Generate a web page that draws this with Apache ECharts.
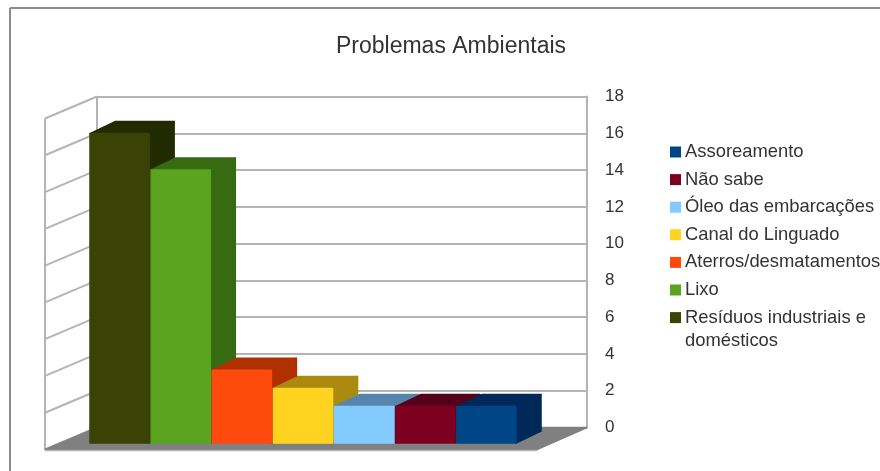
<!DOCTYPE html>
<html>
<head>
<meta charset="utf-8">
<style>html,body{margin:0;padding:0;background:#fff}#chart{width:880px;height:471px}</style>
<script src="https://cdn.jsdelivr.net/npm/echarts@6/dist/echarts.min.js"></script>
</head>
<body>
<div id="chart"></div>
<script>
// Survey responses, tallest column first
const categories = ['Resíduos industriais e domésticos', 'Lixo', 'Aterros/desmatamentos', 'Canal do Linguado', 'Óleo das embarcações', 'Não sabe', 'Assoreamento'];
const values = [17, 15, 4, 3, 2, 2, 2];
const frontColors = ['#3a4205', '#5ba41f', '#ff4a0d', '#ffd320', '#83caff', '#7e0021', '#004586'];
const sideColors = ['#222b00', '#376b12', '#b03000', '#ab8a10', '#5585ad', '#57001a', '#00295a'];
const topColors = ['#222b00', '#376b12', '#b03000', '#ab8a10', '#5585ad', '#57001a', '#00295a'];
const legendOrder = ['Assoreamento', 'Não sabe', 'Óleo das embarcações', 'Canal do Linguado', 'Aterros/desmatamentos', 'Lixo', 'Resíduos industriais e domésticos'];
const yTicks = [0, 2, 4, 6, 8, 10, 12, 14, 16, 18];

const wallDepth = [-52, 22];   // how far the side wall and floor come towards the viewer
const barDepth = [25, -12];    // how far each column runs back
const gridColor = '#b4b4b4';
const textColor = '#333333';
const font = 'Liberation Sans';

const chart = echarts.init(document.getElementById('chart'), null, {renderer: 'canvas'});

function poly(points, fill) {
  return {type: 'polygon', shape: {points}, style: {fill, stroke: fill, lineWidth: 1.5, lineJoin: 'round'}};
}

function rule(x1, y1, x2, y2) {
  return {type: 'line', shape: {x1, y1, x2, y2}, style: {stroke: gridColor, lineWidth: 2}};
}

// Side wall: one sloping rule per axis tick, plus its two vertical edges
function renderWall(params, api) {
  const p = api.coord([0, api.value(0)]);
  const kids = [rule(p[0], p[1], p[0] + wallDepth[0], p[1] + wallDepth[1])];
  if (params.dataIndex === 0) {
    const top = api.coord([0, yTicks[yTicks.length - 1]]);
    kids.push(rule(top[0] + wallDepth[0], top[1] + wallDepth[1], p[0] + wallDepth[0], p[1] + wallDepth[1]));
    kids.push(rule(top[0], top[1], p[0], p[1]));
  }
  return {type: 'group', children: kids};
}

// Floor: parallelogram under the columns
function renderFloor(params, api) {
  const a = api.coord([0, 0]);
  const b = api.coord([1, 0]);
  const inset = 2;
  return {type: 'group', children: [
    poly([a, b, [b[0] + wallDepth[0] + inset, b[1] + wallDepth[1]], [a[0] + wallDepth[0], a[1] + wallDepth[1]]], '#808080'),
    {type: 'line', shape: {x1: a[0] + wallDepth[0], y1: a[1] + wallDepth[1] + 1, x2: b[0] + wallDepth[0] + inset, y2: b[1] + wallDepth[1] + 1}, style: {stroke: gridColor, lineWidth: 1.5}}
  ]};
}

// Column: front face, top face and right side face from the front-plane scale
function renderColumn(params, api) {
  const i = api.value(0);
  const topMid = api.coord([i, api.value(1)]);
  const base = api.coord([i, 0]);
  const w = api.size([1, 0])[0];
  const l = topMid[0] - w / 2 + 1, r = topMid[0] + w / 2 - 1;
  const t = topMid[1], b = base[1];
  const dx = barDepth[0], dy = barDepth[1];
  return {type: 'group', children: [
    poly([[r, t], [r + dx, t + dy], [r + dx, b + dy], [r, b]], sideColors[i]),
    poly([[l, t], [l + dx, t + dy], [r + dx, t + dy], [r, t]], topColors[i]),
    poly([[l, t], [r, t], [r, b], [l, b]], frontColors[i])
  ]};
}

const columnSeries = categories.map((name, i) => ({
  name,
  type: 'custom',
  xAxisIndex: 1,
  yAxisIndex: 1,
  coordinateSystem: 'cartesian2d',
  renderItem: renderColumn,
  itemStyle: {color: frontColors[i]},
  encode: {x: 0, y: 1},
  z: 10 + i,
  data: [[i, values[i]]]
}));

chart.setOption({
  animation: false,
  backgroundColor: '#ffffff',
  title: {
    text: 'Problemas Ambientais',
    left: 446, top: 30, textAlign: 'center',
    textStyle: {fontFamily: font, fontSize: 23, fontWeight: 'normal', color: textColor}
  },
  legend: {
    orient: 'vertical', left: 665, top: 135.5,
    data: legendOrder,
    icon: 'rect', itemWidth: 11, itemHeight: 11, itemGap: 4.6,
    selectedMode: false,
    // the last entry wraps: its second line is placed as a separate text below
    formatter: n => n.replace(' domésticos', ''),
    textStyle: {fontFamily: font, fontSize: 18.4, color: textColor, padding: [0, 0, 0, -1], lineHeight: 23}
  },
  grid: [
    {left: 97, top: 96.5, width: 490, height: 331, show: false},
    {left: 89, top: 115.4, width: 428, height: 327.6, show: false}
  ],
  xAxis: [
    {type: 'value', gridIndex: 0, min: 0, max: 1, show: false},
    {type: 'category', gridIndex: 1, data: categories.map((c, i) => i), show: false}
  ],
  yAxis: [
    {
      type: 'value', gridIndex: 0, position: 'right', min: 0, max: 18, interval: 2,
      axisLine: {show: true, onZero: false, lineStyle: {color: gridColor, width: 2}},
      axisTick: {show: false},
      axisLabel: {margin: 18, fontFamily: font, fontSize: 17, color: textColor},
      splitLine: {show: true, lineStyle: {color: gridColor, width: 2}}
    },
    {type: 'value', gridIndex: 1, min: 0, max: 18, show: false}
  ],
  series: [
    {type: 'custom', name: 'wall', renderItem: renderWall, xAxisIndex: 0, yAxisIndex: 0, z: 3, data: yTicks.map(v => [v]), encode: {y: 0}, silent: true},
    {type: 'custom', name: 'floor', renderItem: renderFloor, xAxisIndex: 0, yAxisIndex: 0, z: 4, data: [[0]], encode: {y: 0}, silent: true}
  ].concat(columnSeries),
  graphic: [
    {type: 'line', z: -1, shape: {x1: 10, y1: 8, x2: 880, y2: 8}, style: {stroke: '#8c8c8c', lineWidth: 2}},
    {type: 'line', z: -1, shape: {x1: 10, y1: 8, x2: 10, y2: 471}, style: {stroke: '#8c8c8c', lineWidth: 2}},
    {type: 'text', left: 685, top: 332, style: {text: 'domésticos', fill: textColor, font: '18.4px "Liberation Sans"'}}
  ]
});
</script>
</body>
</html>
